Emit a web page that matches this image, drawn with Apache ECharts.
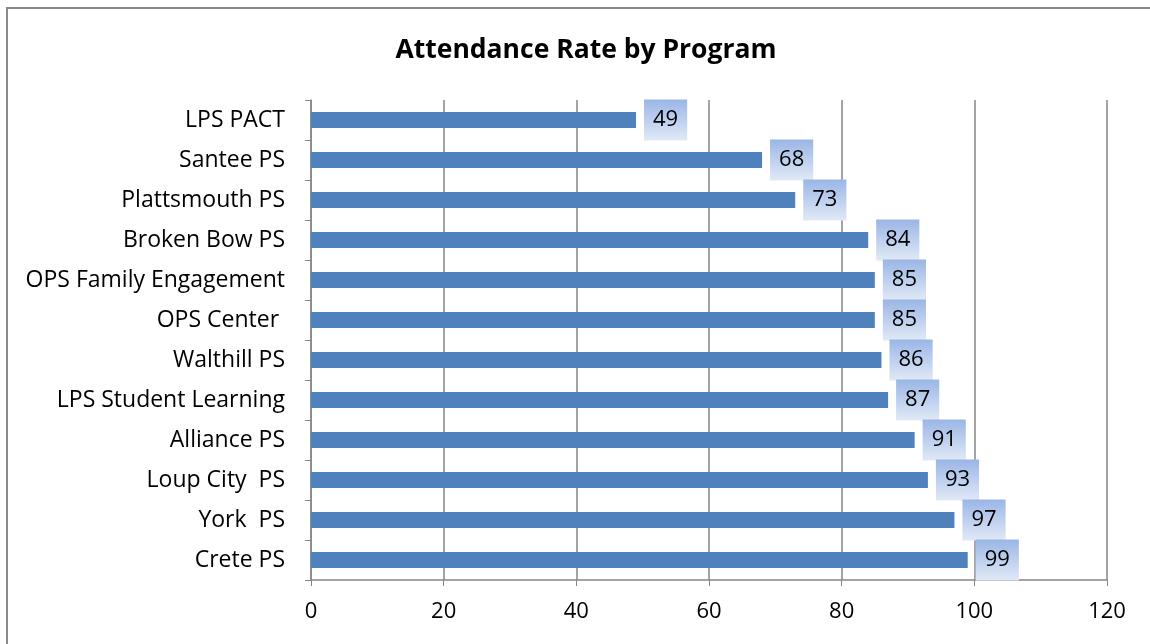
<!DOCTYPE html>
<html>
<head>
<meta charset="utf-8">
<script src="https://cdn.jsdelivr.net/npm/echarts@6/dist/echarts.min.js"></script>
<style>
  html, body { margin: 0; padding: 0; background: #fff; }
  #main { width: 1150px; height: 644px; }
</style>
</head>
<body>
<div id="main"></div>
<script>
var programs = ['LPS PACT', 'Santee PS', 'Plattsmouth PS', 'Broken Bow PS', 'OPS Family Engagement',
    'OPS Center ', 'Walthill PS', 'LPS Student Learning', 'Alliance PS', 'Loup City  PS', 'York  PS', 'Crete PS'];
var rates = [49, 68, 73, 84, 85, 85, 86, 87, 91, 93, 97, 99];
var xTicks = [0, 20, 40, 60, 80, 100, 120];

var myChart = echarts.init(document.getElementById('main'));
var font = '"Open Sans", sans-serif';
option = {
    backgroundColor: '#fff',
    title: {
        text: 'Attendance Rate by Program',
        left: 581,
        textAlign: 'center',
        top: 32,
        textStyle: { fontFamily: font, fontSize: 26.5, fontWeight: 'bold', color: '#000' }
    },
    graphic: [
        {
            type: 'rect',
            shape: { x: 7, y: 8, width: 1200, height: 700 },
            style: { fill: 'none', stroke: '#8a8a8a', lineWidth: 2 },
            silent: true
        }
    ],
    grid: { left: 311, right: 43, top: 100, bottom: 64 },
    xAxis: {
        type: 'value',
        min: xTicks[0],
        max: xTicks[xTicks.length - 1],
        interval: 20,
        axisLine: { show: true, lineStyle: { color: '#868686', width: 1.5 } },
        axisTick: { show: true, length: 6, lineStyle: { color: '#868686' } },
        splitLine: { show: true, lineStyle: { color: '#868686', width: 1.5 } },
        axisLabel: { fontFamily: font, fontSize: 22, color: '#000', margin: 21 }
    },
    yAxis: {
        type: 'category',
        inverse: true,
        data: programs,
        axisLine: { show: true, lineStyle: { color: '#868686', width: 1.5 } },
        axisTick: { show: true, length: 6, lineStyle: { color: '#868686' } },
        axisLabel: { fontFamily: font, fontSize: 23, color: '#000', margin: 26 }
    },
    series: [
        {
            type: 'bar',
            data: rates,
            barWidth: 16,
            itemStyle: { color: '#4f81bd' },
            label: {
                show: true,
                position: 'right',
                distance: 8,
                fontFamily: font,
                fontSize: 22,
                color: '#000',
                padding: [10, 9, 9, 9],
                backgroundColor: new echarts.graphic.LinearGradient(0, 0, 0, 1, [
                    { offset: 0, color: '#9ab6e6' },
                    { offset: 1, color: '#e1e9f6' }
                ])
            }
        }
    ]
};
myChart.setOption(option);
</script>
</body>
</html>
